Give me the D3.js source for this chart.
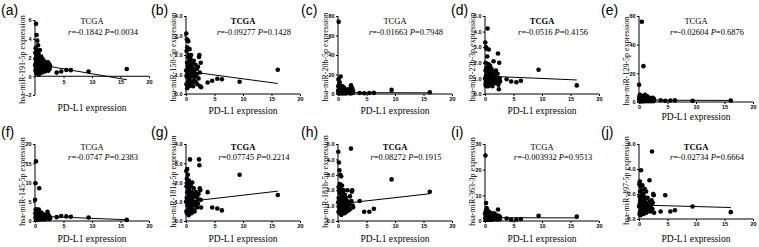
<!DOCTYPE html>
<html>
<head>
<meta charset="utf-8">
<script src="https://cdn.jsdelivr.net/npm/d3@7"></script>
<style>
  body { margin: 0; background: #fff; }
  svg { display: block; }
</style>
</head>
<body>
<div id="chart"></div>
<script>
// PD-L1 expression (shared x values for every panel)
const pdl1 = [0.02, 0.05, 0.08, 0.1, 0.12, 0.15, 0.18, 0.2, 0.22, 0.25, 0.28, 0.3, 0.33, 0.36, 0.4, 0.43, 0.46, 0.5,
  0.53, 0.56, 0.6, 0.63, 0.66, 0.7, 0.74, 0.78, 0.82, 0.86, 0.9, 0.95, 1.0, 1.05, 1.1, 1.15, 1.2, 1.25, 1.3, 1.36,
  1.42, 1.5, 1.58, 1.66, 1.75, 1.84, 1.92, 2.0, 2.1, 2.2, 2.28, 2.35, 2.42, 2.5, 2.58, 2.65,
  3.8, 4.6, 5.5, 6.3, 9.4, 16.1]

const panelLetters = ['a', 'b', 'c', 'd', 'e', 'f', 'g', 'h', 'i', 'j']
const mirNames = ['hsa-miR-191-5p', 'hsa-miR-150-5p', 'hsa-miR-20b-5p', 'hsa-miR-23b-3p', 'hsa-miR-129-5p',
  'hsa-miR-145-5p', 'hsa-miR-181a-5p', 'hsa-miR-181b-5p', 'hsa-miR-363-3p', 'hsa-miR-497-5p']
const rValues = ['-0.1842', '-0.09277', '-0.01663', '-0.0516', '-0.02604', '-0.0747', '0.07745', '0.08272', '-0.003932', '-0.02734']
const pValues = ['0.0034', '0.1428', '0.7948', '0.4156', '0.6876', '0.2383', '0.2214', '0.1915', '0.9513', '0.6664']
const yDomains = [[-2, 6], [0, 4], [0, 80], [0, 5], [0, 60], [0, 20], [0, 4], [0, 5], [0, 30], [0, 6]]
const yTicks = [[-2, 0, 2, 4, 6], [0, 1, 2, 3, 4], [0, 20, 40, 60, 80], [0, 1, 2, 3, 4, 5], [0, 20, 40, 60],
  [0, 5, 10, 15, 20], [0, 1, 2, 3, 4], [0, 1, 2, 3, 4, 5], [0, 10, 20, 30], [0, 2, 4, 6]]
const xTicks = [0, 5, 10, 15, 20]

// miRNA expression, one value per PD-L1 sample
const mir191 = [1.2, 2.5, 0.6, 1.8, 3.0, 0.9, 5.6, 1.5, 0.3, 2.2, 4.4, 1.0, 2.7, 0.5, 3.8, 1.3, 0.8, 2.0, 3.3, 0.4,
  1.6, 2.4, 1.1, 0.2, 1.9, 0.7, 1.4, 2.8, 0.9, 1.7, 0.5, 1.2, 2.1, 0.8, 1.5, 0.4, 1.0, 1.8, 0.6, 1.3, 0.9, 1.6, 0.5,
  1.1, 1.4, 0.7, 1.2, 0.9, 1.5, 0.6, 1.0, 1.3, 0.8, 1.1, 0.39, 0.5, 0.67, 0.65, 0.5, 0.77]
const mir150 = [1.2, 3.1, 0.5, 2.2, 0.9, 2.8, 1.6, 0.3, 2.4, 1.0, 2.75, 1.4, 0.6, 1.9, 2.7, 0.8, 1.3, 2.0, 0.4, 1.7,
  1.1, 2.3, 0.7, 1.5, 1.0, 1.8, 0.5, 1.2, 2.0, 0.9, 1.4, 0.6, 1.6, 1.0, 1.3, 0.4, 1.1, 1.7, 0.7, 1.2, 0.9, 1.5, 0.6,
  1.0, 1.3, 0.5, 1.4, 0.8, 1.9, 2.0, 1.1, 0.4, 1.6, 0.35, 0.59, 0.68, 0.78, 0.76, 0.63, 1.24]
const mir20b = [3, 8, 15, 1, 74, 5, 2, 10, 0.5, 6, 3, 12, 1, 4, 7, 2, 18, 0.8, 5, 3, 1.5, 6, 2, 4, 1, 3, 8, 0.5, 2,
  5, 1, 3, 2, 6, 1, 4, 2, 0.5, 3, 1, 2, 4, 1, 2, 5, 1, 3, 0.5, 9, 4, 2, 6, 1, 3, 1, 0.8, 1, 1.2, 4.2, 1.8]
const mir23b = [1.0, 3.3, 0.6, 1.5, 2.0, 0.8, 3.0, 1.2, 0.5, 1.7, 2.9, 1.0, 1.4, 0.7, 2.4, 1.1, 4.2, 0.9, 1.6, 0.5,
  1.3, 1.9, 2.85, 0.8, 1.2, 1.5, 0.6, 1.0, 1.8, 0.9, 1.3, 0.7, 1.1, 1.6, 0.8, 1.2, 0.5, 1.0, 1.4, 2.1, 0.9, 1.2, 0.7,
  1.1, 1.5, 0.8, 1.0, 1.3, 2.6, 0.6, 0.3, 2.0, 1.0, 0.8, 0.95, 0.8, 0.75, 0.85, 1.55, 0.55]
const mir129 = [12, 2, 4, 1, 3, 0.5, 5, 2, 1, 3, 0.5, 4, 2, 1, 3, 0.5, 2, 56, 1, 3, 2, 0.5, 4, 1, 2, 25, 1, 3, 0.5,
  2, 1, 5, 2, 1, 3, 0.5, 2, 1, 4, 1, 2, 0.5, 1, 3, 1, 2, 0.5, 1, 2, 1, 3, 0.5, 1, 2, 1.2, 0.8, 1.0, 1.1, 0.8, 1.0]
const mir145 = [5.5, 2, 9.8, 1, 3, 0.5, 15.5, 2, 1, 2.5, 0.5, 3, 1.5, 0.3, 2, 1, 1.8, 0.6, 2.2, 1.2, 0.4, 1.6, 3,
  0.8, 8.5, 1.4, 0.5, 2, 1, 1.5, 0.4, 1.2, 2.2, 0.8, 1.5, 0.6, 1.0, 1.8, 0.5, 1.2, 0.8, 1.6, 0.4, 1.0, 1.3, 0.7, 1.1,
  2.4, 1.7, 0.8, 1.4, 0.5, 1.0, 0.7, 1.0, 1.3, 1.2, 1.1, 0.9, 0.3]
const mir181a = [1.0, 2.6, 0.5, 1.8, 1.2, 2.2, 0.4, 2.7, 1.5, 0.8, 2.0, 1.1, 2.4, 0.6, 1.7, 1.3, 0.3, 2.1, 0.9, 1.6,
  1.2, 0.5, 1.9, 3.2, 1.0, 1.4, 0.7, 1.8, 1.1, 0.4, 1.5, 0.8, 2.0, 1.2, 0.6, 1.4, 0.9, 1.7, 1.0, 0.5, 1.3, 0.8, 1.5,
  1.0, 0.7, 1.2, 0.9, 1.4, 3.2, 2.9, 1.7, 1.6, 1.1, 0.7, 1.5, 0.7, 0.65, 0.55, 2.4, 1.35]
const mir181b = [1.2, 4.5, 0.6, 2.2, 1.5, 3.8, 0.9, 2.0, 1.3, 3.3, 0.5, 1.8, 2.4, 1.0, 3.0, 1.4, 0.7, 2.1, 1.1, 2.9,
  0.4, 1.6, 1.2, 2.3, 0.8, 1.5, 1.0, 1.9, 0.6, 1.3, 2.0, 0.9, 1.4, 0.5, 1.7, 1.1, 0.8, 1.5, 1.0, 0.6, 1.3, 2.0, 0.9,
  1.2, 0.7, 1.1, 1.6, 0.8, 4.7, 1.3, 1.9, 2.0, 1.0, 0.9, 1.3, 0.6, 0.6, 0.8, 2.7, 1.9]
const mir363 = [3, 1, 25.5, 2, 0.5, 4, 7, 1.5, 3, 0.5, 2, 5, 1, 3, 0.8, 2, 4, 1, 2.5, 0.5, 1.5, 3, 1, 2, 0.5, 3.5,
  1, 2, 0.8, 1.5, 2.5, 1, 3, 0.5, 1.5, 2, 1, 0.6, 2, 1.2, 3, 0.8, 1.5, 2.5, 1, 1.8, 0.6, 2, 4.5, 1, 2, 1.2, 0.7, 1.5,
  1, 0.5, 0.6, 0.8, 2.0, 1.7]
const mir497 = [1.0, 2.8, 0.4, 1.8, 1.2, 3.0, 0.6, 2.2, 1.5, 0.3, 2.6, 1.0, 1.7, 3.9, 0.8, 1.4, 2.3, 0.5, 1.9, 1.1,
  2.7, 0.7, 1.5, 1.0, 2.0, 0.4, 1.3, 1.8, 0.8, 1.2, 2.4, 0.6, 1.1, 1.6, 0.9, 2.2, 0.5, 1.3, 1.0, 1.7, 0.7, 1.2, 0.9,
  3.1, 1.4, 0.6, 1.1, 1.5, 5.4, 0.8, 1.3, 2.0, 1.9, 0.5, 0.6, 1.9, 0.6, 0.7, 1.0, 0.55]
const mirValues = [mir191, mir150, mir20b, mir23b, mir129, mir145, mir181a, mir181b, mir363, mir497]

// fitted line, value at the smallest and at the largest PD-L1 value
const fitStart = [1.31, 1.17, 1.4, 1.15, 1.3, 1.28, 1.0, 1.1, 1.3, 1.12]
const fitEnd = [-0.37, 0.54, 1.2, 0.9, 1.1, 0.33, 1.55, 1.77, 1.2, 0.92]

const boldTitle = [false, true, false, true, false, false, true, true, false, true]

// layout
const W = 759
const H = 247
const SERIF = "'Liberation Serif', 'Times New Roman', serif"
const SANS = "'Liberation Sans', Arial, sans-serif"
const colX = [0, 150, 300, 450, 600]
const axisOffset = [35, 36, 38, 35, 39]
const plotW = 114
const rowTop = [16, 144]
const rowBottom = [94, 221]
const titleY = [24, 150]
const statsY = [35, 160]

const svg = d3.select('#chart').append('svg')
  .attr('width', W)
  .attr('height', H)

panelLetters.forEach((letter, i) => {
  const row = Math.floor(i / 5)
  const col = i % 5
  const left = colX[col] + axisOffset[col]
  let top = rowTop[row]
  let bottom = rowBottom[row]
  if (i === 0) { top = 20; bottom = 95 }
  if (i === 4) { bottom = 102 }
  if (i === 9) { bottom = 219 }

  const xScale = d3.scaleLinear().domain([0, 20]).range([left, left + plotW])
  const yScale = d3.scaleLinear().domain(yDomains[i]).range([bottom, top])
  const xAxisY = yScale(Math.max(0, yDomains[i][0]))
  const cx = left + plotW / 2

  const g = svg.append('g')

  // panel letter
  g.append('text')
    .attr('x', colX[col] + 1)
    .attr('y', row === 0 ? 15 : 137)
    .attr('font-family', SANS)
    .attr('font-size', 14)
    .text(`(${letter})`)

  // points
  g.append('g')
    .selectAll('circle')
    .data(pdl1.map((x, k) => ({ x, y: mirValues[i][k] })))
    .join('circle')
    .attr('cx', d => xScale(d.x))
    .attr('cy', d => yScale(d.y))
    .attr('r', 2.3)
    .attr('fill', '#000')

  // fitted line
  g.append('line')
    .attr('x1', xScale(d3.min(pdl1)))
    .attr('y1', yScale(fitStart[i]))
    .attr('x2', xScale(d3.max(pdl1)))
    .attr('y2', yScale(fitEnd[i]))
    .attr('stroke', '#000')
    .attr('stroke-width', 1)

  // axes
  const xAxis = d3.axisBottom(xScale)
    .tickValues(i === 0 ? xTicks.slice(1) : xTicks)
    .tickSize(2)
    .tickPadding(1.5)
  const yAxis = d3.axisLeft(yScale)
    .tickValues(yTicks[i])
    .tickSize(2)
    .tickPadding(1.5)

  const xg = g.append('g')
    .attr('transform', `translate(0, ${xAxisY})`)
    .call(xAxis)
  const yg = g.append('g')
    .attr('transform', `translate(${left}, 0)`)
    .call(yAxis)
  xg.select('.domain').attr('d', `M${left},0H${left + plotW}`)
  yg.select('.domain').attr('d', `M0,${bottom}V${top}`)
  ;[xg, yg].forEach(a => {
    a.attr('font-family', SANS)
      .attr('font-size', 5.5)
      .attr('font-weight', 'bold')
    a.selectAll('path, line').attr('stroke', '#000').attr('stroke-width', 1)
  })

  // axis titles
  g.append('text')
    .attr('x', cx)
    .attr('y', row === 0 ? (i === 4 ? 120 : (i === 0 ? 111 : 114)) : 242)
    .attr('text-anchor', 'middle')
    .attr('font-family', SERIF)
    .attr('font-size', 9.5)
    .text('PD-L1 expression')

  g.append('text')
    .attr('transform', `translate(${left - 10.5}, ${(top + bottom) / 2 + (row === 0 ? 2 : -1)}) rotate(-90)`)
    .attr('text-anchor', 'middle')
    .attr('font-family', SERIF)
    .attr('font-size', 8)
    .text(`${mirNames[i]} expression`)

  // title and stats
  g.append('text')
    .attr('x', cx)
    .attr('y', titleY[row])
    .attr('text-anchor', 'middle')
    .attr('font-family', SERIF)
    .attr('font-size', 8.5)
    .attr('font-weight', boldTitle[i] ? 'bold' : 'normal')
    .text('TCGA')

  const stats = g.append('text')
    .attr('x', cx + 11)
    .attr('y', statsY[row])
    .attr('text-anchor', 'middle')
    .attr('font-family', SERIF)
    .attr('font-size', 8.5)
  stats.append('tspan').attr('font-style', 'italic').text('r')
  stats.append('tspan').text(`=${rValues[i]} `)
  stats.append('tspan').attr('font-style', 'italic').text('P')
  stats.append('tspan').text(`=${pValues[i]}`)
})
</script>
</body>
</html>
